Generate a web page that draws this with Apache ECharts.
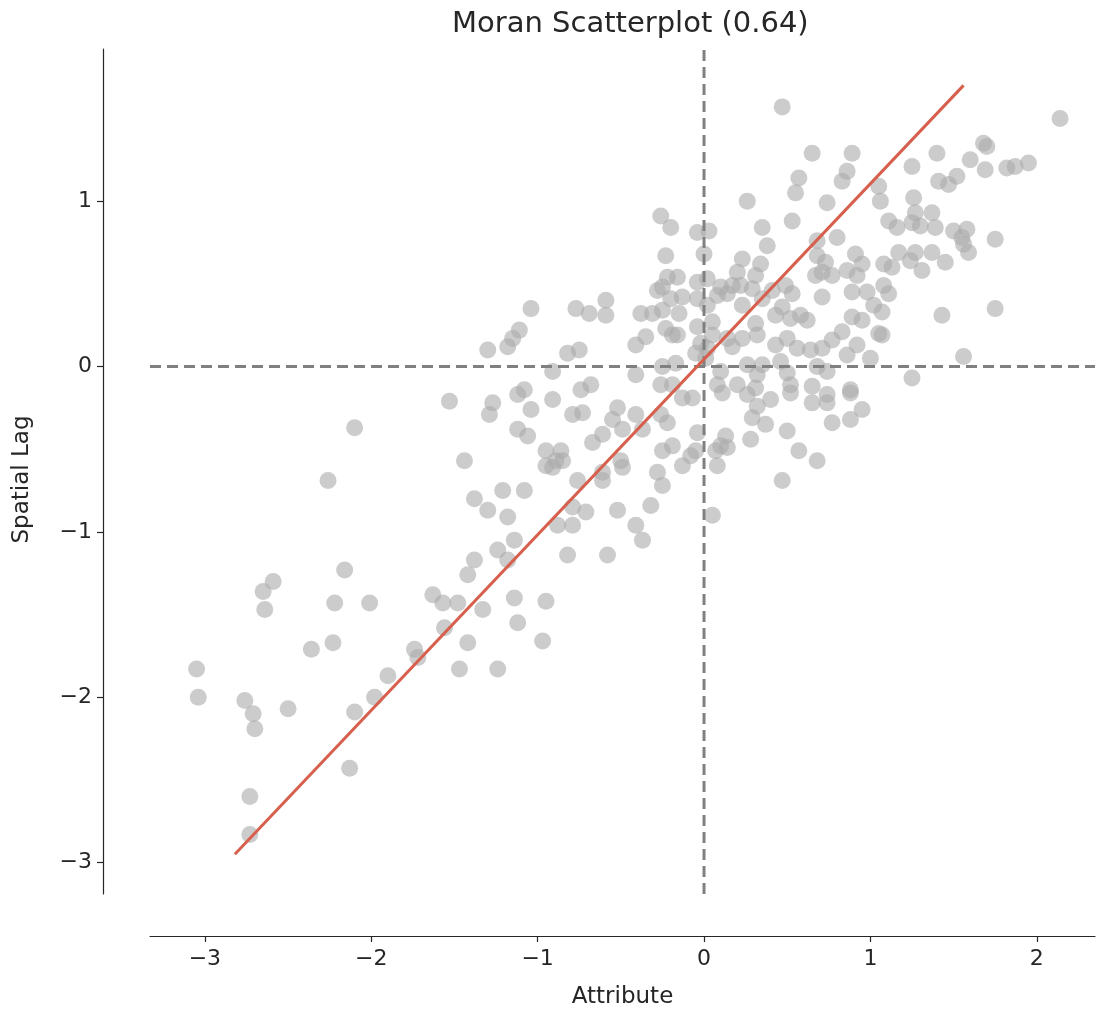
<!DOCTYPE html>
<html>
<head>
<meta charset="utf-8">
<script src="https://cdn.jsdelivr.net/npm/echarts@6/dist/echarts.min.js"></script>
<style>html,body{margin:0;padding:0;background:#fff;overflow:hidden}#c{width:1097px;height:1014px}</style>
</head>
<body>
<div id="c"></div>
<script>
// Attribute (x) and Spatial Lag (y) values
const attribute = [
-3.05,-3.04,-2.76,-2.71,-2.70,-2.73,-2.73,-2.59,-2.65,-2.64,-2.50,-2.36,-2.26,-2.23,-2.22,-2.16,-2.10,-2.10,-2.13,-2.01,
-1.98,-1.90,-1.74,-1.72,-1.63,-1.57,-1.48,-1.56,-1.47,-1.42,-1.42,-1.38,-1.33,-1.24,-1.24,-1.18,-1.14,-1.14,-1.12,-1.38,
-1.30,-1.21,-1.18,-1.44,-1.53,-1.27,-1.29,-1.12,-1.12,-1.30,-1.18,-1.15,-1.11,-1.04,-1.08,-1.08,-1.06,-1.04,-0.91,-0.91,
-0.82,-0.75,-0.77,-0.69,-0.59,-0.59,-0.74,-0.68,-0.79,-0.73,-0.52,-0.55,-0.41,-0.49,-0.37,-0.26,-0.22,-0.13,-0.07,-0.04,
-0.61,-0.67,-0.95,-0.86,-0.89,-0.85,-0.95,-0.91,-0.50,-0.49,-0.61,-0.61,-0.25,-0.19,-0.25,-0.28,-0.13,-0.08,-0.05,-0.76,
-0.71,-0.79,-0.79,-0.88,-0.52,-0.32,-0.41,-0.37,-0.82,-0.58,-0.95,-0.97,
-0.38,-0.31,-0.25,-0.15,-0.23,-0.22,-0.16,-0.28,-0.25,-0.20,-0.13,-0.04,-0.04,-0.23,-0.19,-0.16,-0.04,-0.05,-0.17,-0.25,
-0.26,-0.19,-0.41,-0.35,-0.41,-0.26,-0.20,-0.04,0.03,
0.11,0.26,0.40,0.32,0.29,0.37,0.28,0.13,0.10,0.14,0.07,0.08,0.50,0.57,0.68,0.47,0.05,0.65,0.74,0.77,0.88,0.95,0.88,0.52,
0.47,0.65,0.89,0.86,0.83,0.57,0.55,0.26,0.74,0.53,0.35,1.05,1.06,1.11,0.80,0.68,0.38,
2.14,1.68,1.70,1.40,1.25,1.60,1.69,1.82,1.87,1.95,1.52,1.41,1.47,1.26,1.27,1.37,1.16,1.25,1.30,1.39,1.50,1.58,1.55,1.75,
1.17,1.27,1.37,1.24,1.31,1.13,1.45,1.56,1.59,1.08,1.11,1.07,1.07,1.43,1.75,1.56,1.25,
0.23,0.34,0.20,0.31,0.10,0.17,0.14,0.08,0.02,0.02,0.23,0.35,0.41,0.49,0.53,0.47,0.52,0.58,0.62,0.43,0.31,0.32,0.23,0.17,
0.14,0.05,0.05,0.02,0.43,0.50,0.56,0.64,0.71,0.77,0.83,0.89,0.71,0.67,0.71,0.77,0.68,0.73,0.91,0.95,0.86,0.92,0.89,0.98,
1.02,1.08,1.05,0.95,0.92,0.86,0.74,0.68,0.50,0.46,0.35,0.32,0.26,0.10,0.08,0.20,0.31,0.52,0.65,0.74,0.88,0.22,0.29,
0.00,0.01,-0.02,1.00
];
const spatialLag = [
-1.83,-2.00,-2.02,-2.10,-2.19,-2.60,-2.83,-1.30,-1.36,-1.47,-2.07,-1.71,-0.69,-1.67,-1.43,-1.23,-0.37,-2.09,-2.43,-1.43,
-2.00,-1.87,-1.71,-1.76,-1.38,-1.43,-1.43,-1.58,-1.83,-1.67,-1.26,-1.17,-1.47,-1.83,-1.11,-1.17,-1.05,-1.40,-1.55,-0.80,
-0.87,-0.75,-0.91,-0.57,-0.21,-0.22,-0.29,-0.17,-0.38,0.10,0.12,0.17,0.22,0.35,-0.14,-0.75,-0.42,-0.26,-0.20,-0.03,
0.08,0.10,0.35,0.32,0.40,0.31,-0.14,-0.11,-0.29,-0.28,-0.25,-0.32,-0.29,-0.38,-0.38,-0.29,-0.34,-0.19,-0.19,-0.40,
-0.41,-0.46,-0.51,-0.51,-0.57,-0.57,-0.60,-0.61,-0.57,-0.61,-0.64,-0.69,-0.51,-0.48,-0.72,-0.64,-0.60,-0.54,-0.51,-0.69,
-0.88,-0.85,-0.96,-0.96,-0.87,-0.84,-0.96,-1.05,-1.14,-1.14,-1.42,-1.66,
0.32,0.32,0.34,0.32,0.67,0.54,0.54,0.46,0.48,0.41,0.42,0.51,0.41,0.23,0.19,0.19,0.24,0.08,0.02,0.00,
-0.11,-0.11,0.13,0.18,-0.05,0.91,0.84,0.81,0.82,
-0.16,-0.17,-0.20,-0.24,-0.31,-0.35,-0.44,-0.42,-0.48,-0.49,-0.51,-0.60,-0.39,-0.51,-0.57,-0.69,-0.90,-0.22,-0.22,-0.34,-0.32,-0.26,-0.16,-0.16,
1.57,1.29,1.29,1.18,1.12,1.14,1.05,1.00,0.99,0.88,0.84,1.09,1.00,0.88,0.78,0.76,0.73,
1.50,1.35,1.33,1.29,1.21,1.25,1.19,1.20,1.21,1.23,1.15,1.12,1.10,1.02,0.93,0.93,0.84,0.87,0.85,0.84,0.82,0.83,0.78,0.77,
0.69,0.69,0.69,0.64,0.58,0.60,0.63,0.74,0.69,0.49,0.44,0.33,0.19,0.31,0.35,0.06,-0.07,
0.65,0.62,0.57,0.55,0.48,0.49,0.44,0.43,0.53,0.37,0.37,0.41,0.46,0.49,0.44,0.36,0.29,0.31,0.28,0.31,0.26,0.19,0.17,0.12,
0.17,0.27,0.19,0.11,0.13,0.17,0.11,0.10,0.11,0.16,0.21,0.30,0.42,0.55,0.57,0.55,0.67,0.63,0.68,0.62,0.58,0.55,0.45,0.45,
0.37,0.62,0.20,0.28,0.13,0.07,-0.03,0.00,-0.04,0.03,0.01,-0.05,0.01,-0.03,-0.11,-0.11,-0.13,-0.11,-0.12,-0.17,-0.14,0.49,0.47,
0.68,0.05,0.14,0.05
];
// Fitted line end points
const fitX = [-2.82, 1.56];
const fitY = [-2.95, 1.70];
// Axis extents and ticks
const xRange = [-3.33, 2.35];
const yRange = [-3.19, 1.92];
const xTicks = [-3, -2, -1, 0, 1, 2];
const yTicks = [-3, -2, -1, 0, 1];
const titleText = 'Moran Scatterplot (0.64)';
const xName = 'Attribute';
const yName = 'Spatial Lag';

const pts = attribute.map((x, i) => [x, spatialLag[i]]);
const fmt = v => (v < 0 ? '\u2212' + Math.abs(v) : String(v));
const FONT = 'DejaVu Sans';
const TXT = '#262626';

const el = document.getElementById('c');
const chart = echarts.init(el, null, {renderer: 'canvas', width: 1097, height: 1014});
chart.setOption({
  animation: false,
  backgroundColor: '#ffffff',
  title: {
    text: titleText, left: 447, top: 5,
    textStyle: {fontFamily: FONT, fontSize: 29, fontWeight: 'normal', color: TXT}
  },
  grid: {left: 150, right: 2, top: 49, bottom: 112, containLabel: false},
  xAxis: {
    type: 'value', min: xRange[0], max: xRange[1], offset: 42,
    name: xName, nameLocation: 'middle', nameGap: 50,
    nameTextStyle: {fontFamily: FONT, fontSize: 23, color: TXT},
    axisLine: {show: true, onZero: false, lineStyle: {color: TXT, width: 1.2}},
    axisTick: {show: true, length: 6, customValues: xTicks, lineStyle: {color: TXT, width: 1.2}},
    axisLabel: {customValues: xTicks, formatter: fmt, margin: 12, fontFamily: FONT, fontSize: 22, color: TXT},
    splitLine: {show: false}
  },
  yAxis: {
    type: 'value', min: yRange[0], max: yRange[1], offset: 47,
    name: yName, nameLocation: 'middle', nameGap: 69, nameRotate: 90,
    nameTextStyle: {fontFamily: FONT, fontSize: 23, color: TXT, padding: [0, 16, 0, 0]},
    axisLine: {show: true, onZero: false, lineStyle: {color: TXT, width: 1.2}},
    axisTick: {show: true, length: 6, customValues: yTicks, lineStyle: {color: TXT, width: 1.2}},
    axisLabel: {customValues: yTicks, formatter: fmt, margin: 11, fontFamily: FONT, fontSize: 22, color: TXT},
    splitLine: {show: false}
  },
  series: [
    {
      type: 'scatter', data: pts, symbolSize: 17, z: 2,
      itemStyle: {color: '#aaaaaa', opacity: 0.6}
    },
    {
      type: 'line', data: [[0, yRange[0]], [0, yRange[1]]], symbol: 'none', z: 3,
      lineStyle: {color: '#808080', width: 3, type: [11, 6]}
    },
    {
      type: 'line', data: [[xRange[0], 0], [xRange[1], 0]], symbol: 'none', z: 3,
      lineStyle: {color: '#808080', width: 3, type: [11, 6]}
    },
    {
      type: 'line', data: [[fitX[0], fitY[0]], [fitX[1], fitY[1]]], symbol: 'none', z: 4,
      lineStyle: {color: '#d6604d', width: 3}
    }
  ]
});
</script>
</body>
</html>
